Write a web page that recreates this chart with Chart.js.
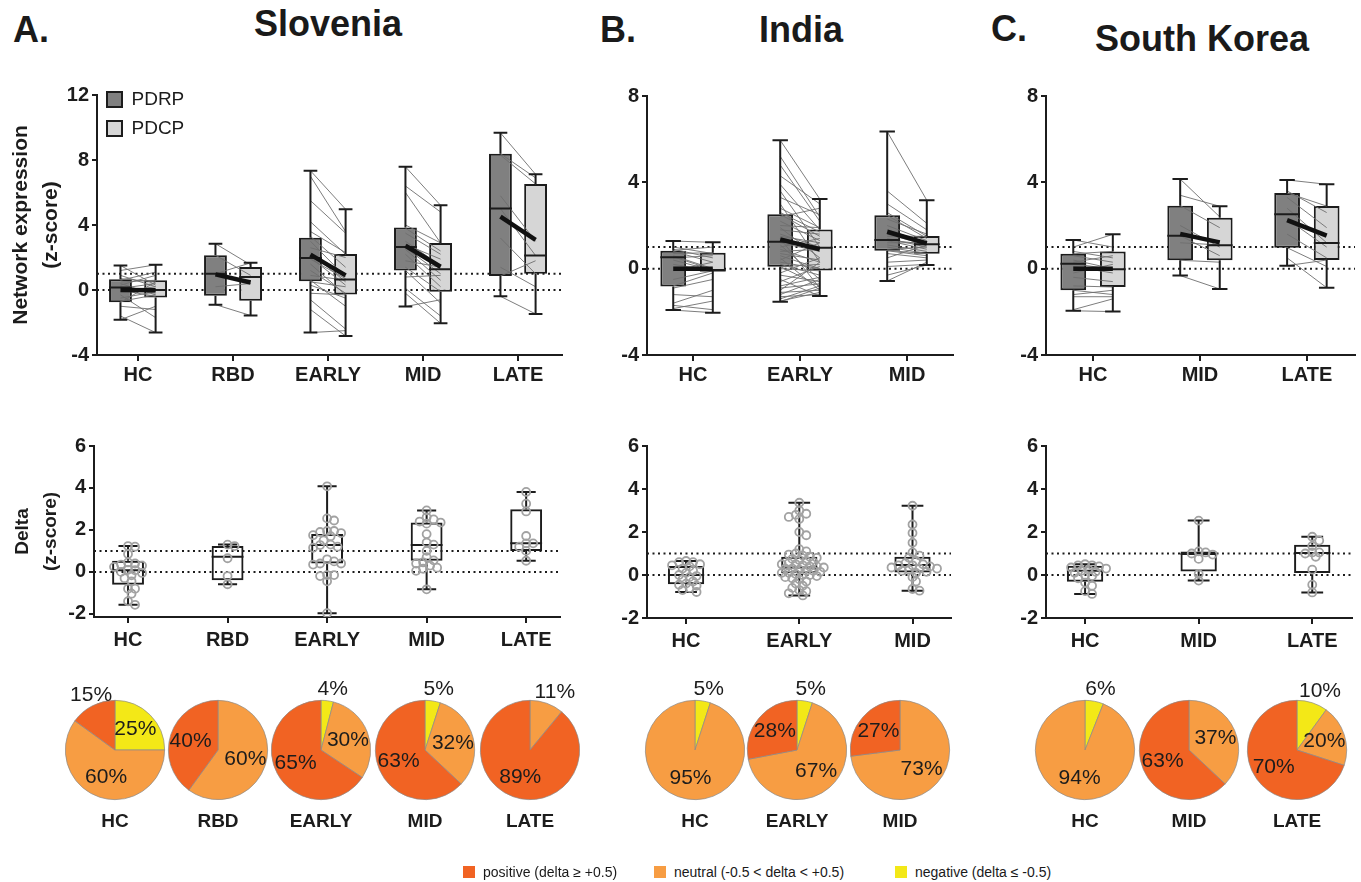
<!DOCTYPE html>
<html>
<head>
<meta charset="utf-8">
<script src="https://cdn.jsdelivr.net/npm/chart.js@4.4.1/dist/chart.umd.min.js"></script>
<style>
  body { margin: 0; width: 1361px; height: 882px; position: relative; overflow: hidden; background: #fff;
         font-family: 'Liberation Sans', Arial, sans-serif; color: #1a1a1a; }
  .ttl { position: absolute; font-weight: bold; font-size: 36px; line-height: 36px; white-space: nowrap; }
  .lg { position: absolute; top: 864px; font-size: 14px; line-height: 16px; white-space: nowrap; }
  .lg span { display: inline-block; width: 12px; height: 12px; margin-right: 8px; vertical-align: -1px; }
</style>
</head>
<body>
<div class="ttl" style="left:13px;top:12px">A.</div>
<div class="ttl" style="left:254px;top:6px">Slovenia</div>
<div class="ttl" style="left:600px;top:12px">B.</div>
<div class="ttl" style="left:759px;top:12px">India</div>
<div class="ttl" style="left:991px;top:11px">C.</div>
<div class="ttl" style="left:1095px;top:21px">South Korea</div>

<script>
// --- DADOS ---
const sloCats = ['HC', 'RBD', 'EARLY', 'MID', 'LATE'];
const indCats = ['HC', 'EARLY', 'MID'];
const korCats = ['HC', 'MID', 'LATE'];

// box: [min, q1, mediana, q3, max]
const sloPdrpStats = [[-1.83, -0.76, 0.15, 0.66, 1.51], [-0.9, -0.35, 1.0, 2.14, 2.85], [-2.62, 0.54, 1.97, 3.21, 7.34], [-1.02, 1.2, 2.64, 3.84, 7.58], [-0.39, 0.86, 5.01, 8.39, 9.67]];
const sloPdcpStats = [[-2.62, -0.46, 0.0, 0.6, 1.55], [-1.57, -0.66, 0.8, 1.41, 1.67], [-2.83, -0.27, 0.64, 2.22, 4.97], [-2.05, -0.11, 1.27, 2.89, 5.21], [-1.47, 1.0, 2.12, 6.53, 7.12]];
const sloPdrpMean = [0.0, 0.96, 2.18, 2.72, 4.51];
const sloPdcpMean = [-0.02, 0.46, 0.9, 1.43, 3.09];

const indPdrpStats = [[-1.92, -0.83, 0.53, 0.83, 1.28], [-1.53, 0.09, 1.25, 2.52, 5.95], [-0.57, 0.83, 1.33, 2.47, 6.35]];
const indPdcpStats = [[-2.04, -0.11, -0.08, 0.74, 1.22], [-1.27, -0.09, 0.97, 1.81, 3.23], [0.17, 0.69, 1.13, 1.51, 3.17]];
const indPdrpMean = [0.0, 1.36, 1.71];
const indPdcpMean = [0.0, 0.9, 1.17];

const korPdrpStats = [[-1.95, -1.0, 0.23, 0.69, 1.33], [-0.32, 0.39, 1.53, 2.92, 4.15], [0.14, 0.97, 2.52, 3.51, 4.11]];
const korPdcpStats = [[-1.99, -0.85, -0.03, 0.79, 1.59], [-0.94, 0.39, 1.08, 2.36, 2.89], [-0.88, 0.4, 1.19, 2.9, 3.91]];
const korPdrpMean = [0.0, 1.61, 2.25];
const korPdcpMean = [0.0, 1.22, 1.53];

// valores individuais (pares PDRP -> PDCP)
const sloPdrpVals = [
  [1.51, 1.2, 0.9, 0.7, 0.6, 0.5, 0.4, 0.3, 0.2, 0.15, 0.1, 0.0, -0.1, -0.3, -0.5, -0.7, -0.76, -1.0, -1.6, -1.83],
  [2.85, 2.14, 1.0, 0.2, -0.9],
  [7.34, 7.0, 5.5, 4.2, 3.6, 3.3, 3.0, 2.6, 2.3, 2.1, 2.0, 1.9, 1.6, 1.2, 0.9, 0.6, 0.5, 0.3, -0.2, -0.6, -1.2, -2.62],
  [7.58, 6.4, 6.0, 4.0, 3.8, 3.5, 3.0, 2.8, 2.7, 2.6, 2.5, 2.2, 1.8, 1.4, 1.2, 0.8, 0.1, -0.2, -1.02],
  [9.67, 8.39, 8.3, 5.8, 5.01, 3.2, 1.4, 0.86, -0.39]
];
const sloPdcpVals = [
  [0.3, 1.55, 0.2, 0.5, 1.1, 0.6, -0.3, 0.9, -0.2, 0.0, 0.4, -0.4, 0.2, -1.7, -0.1, -0.3, 0.5, -1.2, -2.62, -1.0],
  [1.55, 0.9, 1.67, 0.4, -1.57],
  [4.97, 3.6, 3.5, 2.2, 2.3, 1.4, 0.8, 2.0, 0.5, 1.0, 0.3, 0.7, -0.3, -0.2, 0.6, -1.0, 0.2, -0.5, -0.3, -2.4, -2.83, -2.5],
  [5.21, 4.8, 2.9, 2.9, 2.4, 2.2, 1.5, 1.9, 1.3, 1.0, 0.6, 0.2, 1.4, -0.1, -0.8, 0.9, -1.6, -2.05, -0.6],
  [7.12, 6.9, 6.53, 3.0, 2.12, 1.0, 0.2, 1.8, -1.47]
];
const indPdrpVals = [
  [1.28, 1.0, 0.9, 0.85, 0.8, 0.7, 0.6, 0.55, 0.5, 0.4, 0.2, -0.1, -0.5, -0.8, -0.9, -1.2, -1.6, -1.7, -1.92, -1.85],
  [5.95, 5.2, 4.8, 4.3, 3.9, 3.6, 3.3, 3.0, 2.8, 2.6, 2.52, 2.4, 2.2, 2.0, 1.9, 1.8, 1.6, 1.5, 1.4, 1.3, 1.25, 1.2, 1.1, 1.0,
   0.9, 0.8, 0.7, 0.6, 0.5, 0.4, 0.3, 0.2, 0.1, 0.09, 0.0, -0.2, -0.3, -0.5, -0.6, -0.8, -0.9, -1.0, -1.1, -1.2, -1.3, -1.4, -1.5, -1.53],
  [6.35, 3.6, 3.0, 2.6, 2.47, 2.3, 2.0, 1.8, 1.6, 1.5, 1.4, 1.33, 1.3, 1.2, 1.1, 1.0, 0.9, 0.85, 0.83, 0.7, 0.5, 0.3, 0.1, -0.3, -0.57]
];
const indPdcpVals = [
  [1.22, 0.7, 0.5, 1.0, 0.3, 0.74, 0.0, -0.05, 0.6, -0.08, -0.1, 0.3, -0.1, -0.2, -0.5, -1.3, -1.0, -1.9, -2.04, -1.5],
  [3.23, 2.4, 2.2, 3.0, 1.8, 1.0, 2.5, 0.3, 1.9, 1.7, 1.5, 2.8, 1.3, 1.9, 0.5, 1.6, 1.0, 1.2, -0.9, 1.0, 0.9, 0.8, -0.5, 1.4,
   0.3, 0.9, 0.4, 0.0, -1.0, 1.2, 0.0, -0.3, -0.8, 0.2, -0.1, 0.5, -0.6, -1.27, 0.1, -0.4, -0.7, 0.3, -1.0, -0.5, -1.2, -0.8, -1.1, -0.9],
  [3.17, 2.1, 1.8, 1.5, 1.4, 1.6, 1.3, 1.2, 1.1, 1.5, 1.0, 1.13, 0.9, 1.2, 0.8, 0.7, 1.0, 0.69, 0.6, 0.5, 1.1, 0.4, 0.2, 0.17, 0.3]
];
const korPdrpVals = [
  [1.33, 1.0, 0.8, 0.69, 0.6, 0.4, 0.3, 0.23, 0.1, -0.2, -0.4, -0.8, -1.0, -1.2, -1.3, -1.95, -1.9],
  [4.15, 3.4, 2.92, 2.0, 1.53, 1.2, 0.39, -0.32],
  [4.11, 3.6, 3.51, 3.3, 2.8, 2.3, 1.6, 0.97, 0.5, 0.14]
];
const korPdcpVals = [
  [1.0, 1.59, 0.5, 0.8, 0.3, 0.0, 0.6, -0.03, -0.2, 0.2, -0.6, -0.85, -1.2, -1.0, -1.3, -1.99, -1.4],
  [2.4, 2.89, 1.9, 1.0, 0.6, 1.1, 0.3, -0.94],
  [3.91, 2.6, 2.9, 1.9, 1.2, 1.0, 0.5, 0.1, -0.88, 0.4]
];

// delta
const sloDeltaStats = [[-1.57, -0.61, 0.08, 0.53, 1.23], [-0.59, -0.4, 0.72, 1.23, 1.3], [-1.97, 0.4, 1.28, 1.81, 4.08], [-0.83, 0.53, 1.28, 2.35, 2.93], [0.53, 1.0, 1.36, 2.99, 3.81]];
const indDeltaStats = [[-0.79, -0.43, 0.0, 0.42, 0.65], [-0.95, 0.08, 0.35, 0.85, 3.36], [-0.73, 0.12, 0.47, 0.85, 3.22]];
const korDeltaStats = [[-0.88, -0.31, 0.2, 0.43, 0.5], [-0.26, 0.16, 0.98, 1.09, 2.53], [-0.81, 0.09, 1.02, 1.41, 1.78]];

const sloDeltaVals = [
  [1.23, 1.2, 0.85, 0.45, 0.4, 0.35, 0.3, 0.24, 0.1, 0.08, 0.0, -0.05, -0.16, -0.3, -0.45, -0.8, -0.8, -1.04, -1.4, -1.57],
  [1.3, 1.23, 0.65, -0.2, -0.59],
  [4.08, 2.55, 2.45, 1.95, 1.95, 1.9, 1.85, 1.75, 1.7, 1.5, 1.3, 1.28, 1.2, 1.15, 0.6, 0.5, 0.4, 0.4, 0.35, -0.15, -0.15, -0.2, -0.45, -1.97],
  [2.93, 2.6, 2.5, 2.4, 2.35, 2.3, 1.8, 1.4, 1.3, 1.0, 0.7, 0.55, 0.45, 0.4, 0.3, 0.2, 0.15, 0.05, -0.83],
  [3.81, 3.25, 2.88, 1.71, 1.36, 1.36, 1.2, 1.0, 0.53]
];
const indDeltaVals = [
  [0.65, 0.6, 0.6, 0.5, 0.45, 0.4, 0.3, 0.2, 0.1, 0.0, -0.05, -0.1, -0.2, -0.3, -0.4, -0.45, -0.5, -0.6, -0.7, -0.79],
  [3.36, 3.0, 2.85, 2.8, 2.7, 2.6, 2.0, 1.85, 1.2, 1.1, 1.0, 0.95, 0.9, 0.85, 0.8, 0.75, 0.7, 0.65, 0.6, 0.55, 0.5, 0.5, 0.45, 0.4, 0.4,
   0.35, 0.3, 0.3, 0.25, 0.2, 0.2, 0.15, 0.1, 0.1, 0.05, 0.0, 0.0, -0.05, -0.1, -0.15, -0.2, -0.3, -0.4, -0.5, -0.6, -0.7, -0.75, -0.85, -0.95],
  [3.22, 2.35, 1.95, 1.5, 1.05, 0.9, 0.8, 0.65, 0.55, 0.5, 0.45, 0.45, 0.4, 0.35, 0.3, 0.3, 0.25, 0.2, 0.15, 0.1, -0.1, -0.3, -0.65, -0.73]
];
const korDeltaVals = [
  [0.5, 0.45, 0.45, 0.4, 0.35, 0.3, 0.25, 0.2, 0.15, 0.1, 0.0, -0.05, -0.15, -0.35, -0.5, -0.75, -0.88],
  [2.53, 1.1, 1.05, 1.0, 0.95, 0.75, 0.05, -0.26],
  [1.78, 1.6, 1.35, 1.05, 1.05, 1.0, 0.85, 0.25, -0.45, -0.81]
];

// pizzas (%)
const sloPiePositive = [15, 40, 65, 63, 89];
const sloPieNeutral  = [60, 60, 30, 32, 11];
const sloPieNegative = [25, 0, 4, 5, 0];
const indPiePositive = [0, 28, 27];
const indPieNeutral  = [95, 67, 73];
const indPieNegative = [5, 5, 0];
const korPiePositive = [0, 63, 70];
const korPieNeutral  = [94, 37, 20];
const korPieNegative = [6, 0, 10];

const topTicks = [-4, 0, 4, 8, 12];
const topTicksShort = [-4, 0, 4, 8];
const deltaTicks = [-2, 0, 2, 4, 6];
const refLines = [0, 1];
const legendLabels = ['positive (delta \u2265 +0.5)', 'neutral (-0.5 < delta < +0.5)', 'negative (delta \u2264 -0.5)'];

// --- ESTILO ---
const INK = '#1c1c1c';
const FONT = "'Liberation Sans', Arial, sans-serif";
const C_POS = '#F16323', C_NEU = '#F79D43', C_NEG = '#F3E817';
Chart.defaults.font.family = FONT;
Chart.defaults.color = INK;
Chart.defaults.animation = false;
Chart.defaults.events = [];
Chart.defaults.plugins.tooltip.enabled = false;
Chart.defaults.plugins.legend.display = false;

function addCanvas(left, top, w, h) {
  const c = document.createElement('canvas');
  c.width = w; c.height = h;
  c.style.cssText = 'position:absolute;left:' + left + 'px;top:' + top + 'px;width:' + w + 'px;height:' + h + 'px';
  document.body.appendChild(c);
  return c;
}

const GAP = () => ({ x: 0, y: null });

function refDatasets(lay) {
  return refLines.map(v => ({
    type: 'line', label: 'ref', order: 10,
    data: [{ x: lay.xMin, y: v }, { x: lay.xMax, y: v }],
    borderColor: INK, borderWidth: 2, borderDash: [2, 3.5], pointRadius: 0
  }));
}

function axes(cats, lay, yTicks, title) {
  return {
    x: {
      type: 'linear', min: lay.xMin, max: lay.xMax, offset: false,
      grid: { offset: false, drawOnChartArea: false, color: INK, lineWidth: 2, tickLength: 6 },
      border: { color: INK, width: 2 },
      ticks: { autoSkip: false, maxRotation: 0, padding: lay.xPad, color: INK, font: { size: 20, weight: 'bold' }, callback: v => cats[v] },
      afterBuildTicks: s => { s.ticks = cats.map((c, i) => ({ value: i })); },
      afterFit: s => { s.height = lay.xAxisH; }
    },
    y: {
      type: 'linear', min: lay.yMin, max: lay.yMax,
      grid: { drawOnChartArea: false, color: INK, lineWidth: 2, tickLength: 5 },
      border: { color: INK, width: 2 },
      ticks: { padding: 3, color: INK, font: { size: 20, weight: 'bold' }, callback: v => String(v) },
      afterBuildTicks: s => { s.ticks = yTicks.map(v => ({ value: v })); },
      afterFit: s => { s.width = lay.yAxisW; },
      title: title || { display: false }
    }
  };
}

// --- GRÁFICO DE CAIXAS PAREADAS (PDRP / PDCP) ---
function pairedBoxChart(cats, rpStats, cpStats, rpMean, cpMean, rpVals, cpVals, lay, yTicks, title, showLegend) {
  const CAT_PCT = 0.74, BAR_PCT = 0.65;
  const off = CAT_PCT / 4;
  const half = CAT_PCT / 2 * BAR_PCT / 2;
  const cap = half * 0.6;
  const whisk = [], med = [];
  [[rpStats, -off], [cpStats, off]].forEach(([stats, dx]) => stats.forEach((st, i) => {
    const cx = i + dx;
    whisk.push({ x: cx, y: st[0] }, { x: cx, y: st[1] }, GAP(), { x: cx, y: st[3] }, { x: cx, y: st[4] }, GAP(),
      { x: cx - cap, y: st[0] }, { x: cx + cap, y: st[0] }, GAP(), { x: cx - cap, y: st[4] }, { x: cx + cap, y: st[4] }, GAP());
    med.push({ x: cx - half, y: st[2] }, { x: cx + half, y: st[2] }, GAP());
  }));
  const pairs = [];
  rpVals.forEach((arr, i) => arr.forEach((v, j) => pairs.push({ x: i - off, y: v }, { x: i + off, y: cpVals[i][j] }, GAP())));
  const means = [];
  rpMean.forEach((m, i) => means.push({ x: i - off, y: m }, { x: i + off, y: cpMean[i] }, GAP()));

  const boxDs = (label, stats, color) => ({
    type: 'bar', label: label, order: 9,
    data: stats.map((st, i) => ({ x: i, y: [st[1], st[3]] })),
    backgroundColor: color, borderColor: INK, borderWidth: 2, borderSkipped: false,
    categoryPercentage: CAT_PCT, barPercentage: BAR_PCT
  });
  const lineDs = (label, data, width, color, order) => ({
    type: 'line', label: label, order: order, data: data,
    borderColor: color, borderWidth: width, pointRadius: 0, spanGaps: false, borderCapStyle: 'butt'
  });

  new Chart(addCanvas(lay.left, lay.top, lay.w, lay.h), {
    type: 'bar',
    data: {
      datasets: [
        ...refDatasets(lay),
        boxDs('PDRP', rpStats, '#808080'),
        boxDs('PDCP', cpStats, '#d6d6d6'),
        lineDs('pares', pairs, 0.9, '#6e6e6e', 7),
        lineDs('whiskers', whisk, 2, INK, 6),
        lineDs('mediana', med, 2, INK, 5),
        lineDs('média', means, 4.5, '#111', 1)
      ]
    },
    options: {
      responsive: false,
      layout: { padding: { top: lay.padTop, right: lay.padRight, left: 0, bottom: 0 } },
      scales: axes(cats, lay, yTicks, title),
      plugins: {
        legend: {
          display: !!showLegend, position: 'chartArea', align: 'start',
          labels: { filter: it => it.text === 'PDRP' || it.text === 'PDCP', boxWidth: 15, boxHeight: 15, padding: 10, color: INK, font: { size: 19 } }
        }
      }
    }
  });
}

// --- GRÁFICO DELTA (caixa + pontos) ---
function swarmOffsets(vals, pxY, pxX) {
  const idx = vals.map((v, i) => i).sort((a, b) => vals[b] - vals[a]);
  const placed = [], res = new Array(vals.length).fill(0);
  idx.forEach(i => {
    const y = vals[i] * pxY;
    for (let k = 0; k < 80; k++) {
      const dx = Math.ceil(k / 2) * (k % 2 ? 1 : -1) * 3.5;
      if (placed.every(p => Math.hypot(p.x - dx, p.y - y) >= 5.5)) {
        placed.push({ x: dx, y: y }); res[i] = dx / pxX; break;
      }
    }
  });
  return res;
}

function deltaChart(cats, stats, vals, lay, title) {
  const CAT_PCT = 0.5, BAR_PCT = 0.64;
  const half = CAT_PCT * BAR_PCT / 2;
  const cap = half * 0.6;
  const pxY = (lay.h - lay.padTop - lay.xAxisH) / (lay.yMax - lay.yMin);
  const pxX = (lay.w - lay.yAxisW - lay.padRight) / (lay.xMax - lay.xMin);
  const whisk = [], med = [], pts = [];
  stats.forEach((st, i) => {
    whisk.push({ x: i, y: st[0] }, { x: i, y: st[1] }, GAP(), { x: i, y: st[3] }, { x: i, y: st[4] }, GAP(),
      { x: i - cap, y: st[0] }, { x: i + cap, y: st[0] }, GAP(), { x: i - cap, y: st[4] }, { x: i + cap, y: st[4] }, GAP());
    med.push({ x: i - half, y: st[2] }, { x: i + half, y: st[2] }, GAP());
  });
  vals.forEach((arr, i) => {
    const offs = swarmOffsets(arr, pxY, pxX);
    arr.forEach((v, j) => pts.push({ x: i + offs[j], y: v }));
  });

  new Chart(addCanvas(lay.left, lay.top, lay.w, lay.h), {
    type: 'bar',
    data: {
      datasets: [
        ...refDatasets(lay),
        { type: 'bar', label: 'delta', order: 9, data: stats.map((st, i) => ({ x: i, y: [st[1], st[3]] })),
          backgroundColor: 'rgba(255,255,255,0)', borderColor: INK, borderWidth: 2, borderSkipped: false,
          categoryPercentage: CAT_PCT, barPercentage: BAR_PCT },
        { type: 'line', label: 'whiskers', order: 6, data: whisk, borderColor: INK, borderWidth: 2, pointRadius: 0 },
        { type: 'line', label: 'mediana', order: 5, data: med, borderColor: INK, borderWidth: 2, pointRadius: 0 },
        { type: 'line', label: 'pontos', order: 1, data: pts, showLine: false, pointRadius: 4, pointBorderWidth: 1.8,
          pointBorderColor: '#a2a2a2', pointBackgroundColor: 'rgba(255,255,255,0)' }
      ]
    },
    options: {
      responsive: false,
      layout: { padding: { top: lay.padTop, right: lay.padRight, left: 0, bottom: 0 } },
      scales: axes(cats, lay, deltaTicks, title)
    }
  });
}

// --- PIZZAS ---
const pieText = {
  id: 'pieText',
  afterDatasetsDraw(chart, args, opts) {
    const ctx = chart.ctx;
    const meta = chart.getDatasetMeta(0);
    const vals = chart.data.datasets[0].data;
    let cx = 0, cy = 0;
    ctx.save();
    ctx.fillStyle = INK;
    ctx.textAlign = 'center';
    ctx.textBaseline = 'middle';
    ctx.font = '21px ' + FONT;
    meta.data.forEach((arc, i) => {
      cx = arc.x; cy = arc.y;
      if (!vals[i]) return;
      const mid = (arc.startAngle + arc.endAngle) / 2;
      const inside = vals[i] >= 20;
      const k = inside ? 0.58 : 1.24;
      ctx.fillText(vals[i] + '%', cx + Math.cos(mid) * arc.outerRadius * k + (inside ? 0 : 4), cy + Math.sin(mid) * arc.outerRadius * k);
    });
    ctx.font = 'bold 19px ' + FONT;
    ctx.fillText(opts.name, cx, cy + 72);
    ctx.restore();
  }
};

function pieRow(cats, pos, neu, neg, centers) {
  cats.forEach((name, i) => {
    new Chart(addCanvas(centers[i] - 85, 660, 170, 200), {
      type: 'pie',
      data: {
        labels: ['negative', 'neutral', 'positive'],
        datasets: [{ data: [neg[i], neu[i], pos[i]], backgroundColor: [C_NEG, C_NEU, C_POS],
                     borderColor: '#8a8a8a', borderWidth: 0.7, hoverOffset: 0 }]
      },
      options: {
        responsive: false,
        layout: { padding: { left: 35, right: 35, top: 40, bottom: 60 } },
        plugins: { pieText: { name: name } }
      },
      plugins: [pieText]
    });
  });
}

// --- MONTAGEM ---
const netTitle = { display: true, text: ['Network expression', '(z-score)'], color: INK,
  font: { size: 21, weight: 'bold', lineHeight: 1.45 }, padding: { top: 6, bottom: 0 } };
const deltaTitle = { display: true, text: ['Delta', '(z-score)'], color: INK,
  font: { size: 19, weight: 'bold', lineHeight: 1.45 }, padding: { top: 9, bottom: 0 } };

pairedBoxChart(sloCats, sloPdrpStats, sloPdcpStats, sloPdrpMean, sloPdcpMean, sloPdrpVals, sloPdcpVals,
  { left: 0, top: 80, w: 572, h: 320, yAxisW: 97, padTop: 12, padRight: 10, xAxisH: 45, xPad: 2, xMin: -0.432, xMax: 4.463, yMin: -4, yMax: 12 },
  topTicks, netTitle, true);
pairedBoxChart(indCats, indPdrpStats, indPdcpStats, indPdrpMean, indPdcpMean, indPdrpVals, indPdcpVals,
  { left: 580, top: 80, w: 383, h: 320, yAxisW: 67, padTop: 16, padRight: 10, xAxisH: 45, xPad: 2, xMin: -0.43, xMax: 2.43, yMin: -4, yMax: 8 },
  topTicksShort, null, false);
pairedBoxChart(korCats, korPdrpStats, korPdcpStats, korPdrpMean, korPdcpMean, korPdrpVals, korPdcpVals,
  { left: 980, top: 80, w: 381, h: 320, yAxisW: 66, padTop: 16, padRight: 6, xAxisH: 45, xPad: 2, xMin: -0.44, xMax: 2.45, yMin: -4, yMax: 8 },
  topTicksShort, null, false);

deltaChart(sloCats, sloDeltaStats, sloDeltaVals,
  { left: 0, top: 430, w: 570, h: 225, yAxisW: 94, padTop: 16, padRight: 10, xAxisH: 38, xPad: 5, xMin: -0.342, xMax: 4.34, yMin: -2.15, yMax: 6 },
  deltaTitle);
deltaChart(indCats, indDeltaStats, indDeltaVals,
  { left: 580, top: 430, w: 381, h: 225, yAxisW: 67, padTop: 16, padRight: 10, xAxisH: 37, xPad: 5, xMin: -0.345, xMax: 2.34, yMin: -2, yMax: 6 },
  null);
deltaChart(korCats, korDeltaStats, korDeltaVals,
  { left: 980, top: 430, w: 381, h: 225, yAxisW: 66, padTop: 16, padRight: 9, xAxisH: 37, xPad: 5, xMin: -0.344, xMax: 2.35, yMin: -2, yMax: 6 },
  null);

pieRow(sloCats, sloPiePositive, sloPieNeutral, sloPieNegative, [115, 218, 321, 425, 530]);
pieRow(indCats, indPiePositive, indPieNeutral, indPieNegative, [695, 797, 900]);
pieRow(korCats, korPiePositive, korPieNeutral, korPieNegative, [1085, 1189, 1297]);

// legenda inferior
[C_POS, C_NEU, C_NEG].forEach((col, i) => {
  const d = document.createElement('div');
  d.className = 'lg';
  d.style.left = [463, 654, 895][i] + 'px';
  d.innerHTML = '<span style="background:' + col + '"></span>';
  d.appendChild(document.createTextNode(legendLabels[i]));
  document.body.appendChild(d);
});
</script>
</body>
</html>
